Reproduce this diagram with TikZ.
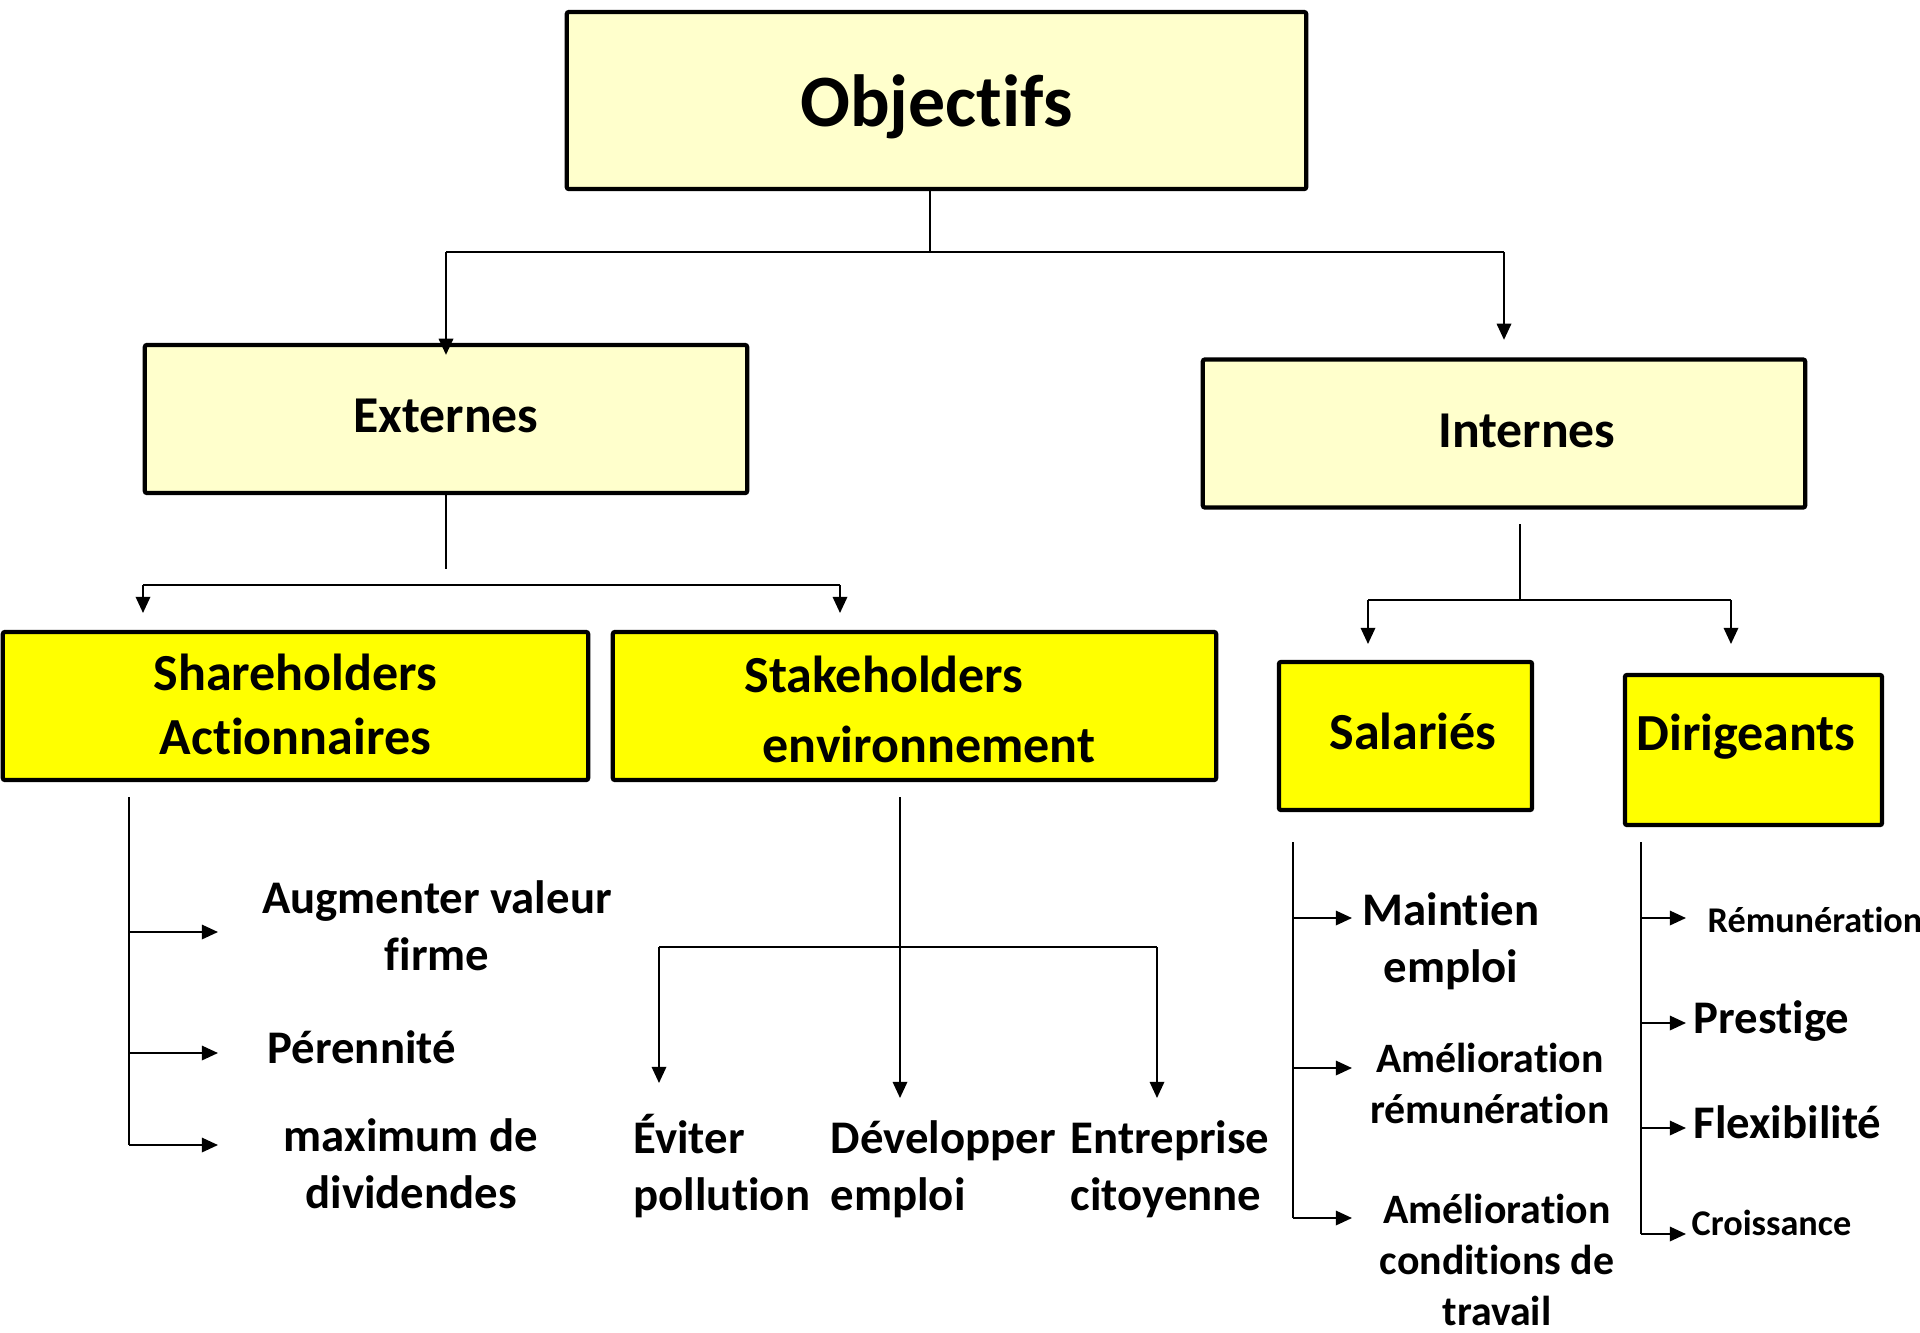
\documentclass[tikz,border=0pt]{standalone}
\usepackage{fontspec}
\setmainfont{Carlito}[Ligatures={NoCommon}]
\usetikzlibrary{arrows.meta}
\definecolor{paleyellow}{HTML}{FFFFCC}
\definecolor{brightyellow}{HTML}{FFFF00}

\begin{document}
\begin{tikzpicture}[x=0.01cm, y=-0.01cm,
  box/.style={draw=black, line width=1.2pt, rounded corners=0.6pt, inner sep=0pt,
              text depth=0pt, align=center},
  topbox/.style={box, fill=paleyellow, minimum width=6.02cm, minimum height=1.48cm,
                 font=\bfseries\fontsize{14.7}{18}\selectfont},
  subbox/.style={box, fill=brightyellow, minimum height=1.48cm,
                 font=\bfseries\fontsize{14.8}{18.2}\selectfont},
  link/.style={draw=black, line width=0.6pt},
  arr/.style={link, -{Triangle[length=4.6pt, width=4.1pt]}},
  item/.style={inner sep=0pt, align=center, font=\bfseries\fontsize{13.3}{16}\selectfont},
  itemsm/.style={inner sep=0pt, align=center, font=\bfseries\fontsize{11.9}{14.4}\selectfont},
  itemxs/.style={inner sep=0pt, align=left, font=\bfseries\fontsize{10.3}{12.4}\selectfont}
]
\useasboundingbox (0,0) rectangle (1920,1332);

% ---------- boxes ----------
\node[box, fill=paleyellow, minimum width=7.39cm, minimum height=1.77cm, text height=0.51cm,
      font=\bfseries\fontsize{21}{25}\selectfont] (obj) at (936.5,100.5) {Objectifs};
\node[topbox, text height=0.26cm] (ext) at (446,419) {Externes};
\node[topbox, text height=0.27cm] (int) at (1504,433.5) {\kern0.46cm Internes};

\node[subbox, minimum width=5.85cm, text height=0.96cm] (sha) at (295.5,706)
  {Shareholders\\Actionnaires};
\node[subbox, minimum width=6.03cm, text height=1.12cm,
      font=\bfseries\fontsize{14.8}{19.9}\selectfont] (sta) at (914.5,706)
  {Stakeholders\kern0.61cm\\\kern0.29cm environnement};
\node[subbox, minimum width=2.53cm, text height=0.26cm] (sal) at (1405.5,736)
  {\kern0.15cm Salariés};
\node[subbox, minimum width=2.57cm, minimum height=1.50cm, text height=0pt] (dir) at (1753.5,750)
  {Dirigeants\kern0.15cm};

% ---------- first level split ----------
\coordinate (ja)  at (930,252);
\coordinate (jaL) at (446,252);
\coordinate (jaR) at (1504,252);
\draw[link] (ja |- obj.south) -- (ja);
\draw[link] (jaL) -- (jaR);
\draw[arr] (jaL) -- ([yshift=-0.12cm]ext.north);
\draw[arr] (jaR) -- ([yshift=0.175cm]int.north);

% ---------- external split ----------
\coordinate (jbTop) at (446,569);
\coordinate (jbL) at (143,585);
\coordinate (jbR) at (840,585);
\draw[link] (ext.south) -- (jbTop);
\draw[link] (jbL) -- (jbR);
\draw[arr] (jbL) -- ++(0,28);
\draw[arr] (jbR) -- ++(0,28);

% ---------- internal split ----------
\coordinate (jcTop) at (1520,524);
\coordinate (jc)  at (1520,600);
\coordinate (jcL) at (1368,600);
\coordinate (jcR) at (1731,600);
\draw[link] (jcTop) -- (jc);
\draw[link] (jcL) -- (jcR);
\draw[arr] (jcL) -- ++(0,44);
\draw[arr] (jcR) -- ++(0,44);

% ---------- shareholder goals ----------
\node[item, anchor=base] (augm) at (437,970) {Augmenter valeur\\firme};
\node[item, anchor=base west] (peren) at (267,1063) {Pérennité};
\node[item, anchor=base] (maxd) at (411,1208) {maximum de\\dividendes};
\coordinate (shTop) at (129,797);
\coordinate (shBot) at (129,1145);
\coordinate (augIn) at (218,932);
\coordinate (perIn) at (218,1053);
\coordinate (maxIn) at (218,1145);
\draw[link] (shTop) -- (shBot);
\draw[arr] (augIn -| shTop) -- (augIn);
\draw[arr] (perIn -| shTop) -- (perIn);
\draw[arr] (maxIn -| shTop) -- (maxIn);

% ---------- stakeholder goals ----------
\node[item, align=left, anchor=base west] (evit) at (633,1210) {Éviter\\pollution};
\node[item, align=left, anchor=base west] (devel) at (830,1210) {Développer\\emploi};
\node[item, align=left, anchor=base west] (entr) at (1070,1210) {Entreprise\\citoyenne};
\coordinate (stTop) at (900,797);
\coordinate (stL) at (659,947);
\coordinate (stR) at (1157,947);
\draw[arr] (stTop) -- (900,1098);
\draw[link] (stL) -- (stR);
\draw[arr] (stL) -- (659,1083);
\draw[arr] (stR) -- (1157,1098);

% ---------- employee goals ----------
\node[item, anchor=base] (maint) at (1451,982) {Maintien\\emploi};
\node[itemsm, anchor=base] (amrem) at (1490,1123) {Amélioration\\rémunération};
\node[itemsm, anchor=base] (amcond) at (1497,1325) {Amélioration\\conditions de\\travail};
\coordinate (saTop) at (1293,842);
\coordinate (saBot) at (1293,1218);
\coordinate (mainIn) at (1352,918);
\coordinate (remIn) at (1352,1068);
\coordinate (condIn) at (1352,1218);
\draw[link] (saTop) -- (saBot);
\draw[arr] (mainIn -| saTop) -- (mainIn);
\draw[arr] (remIn -| saTop) -- (remIn);
\draw[arr] (condIn -| saTop) -- (condIn);

% ---------- manager goals ----------
\node[itemxs, anchor=base west] (remu) at (1707,932) {Rémunération};
\node[item, anchor=base west] (prest) at (1693,1033) {Prestige};
\node[item, anchor=base west] (flex) at (1693,1138) {Flexibilité};
\node[itemxs, anchor=base west] (crois) at (1691,1235) {Croissance};
\coordinate (diTop) at (1641,842);
\coordinate (diBot) at (1641,1234);
\coordinate (remuIn) at (1686,918);
\coordinate (presIn) at (1686,1023);
\coordinate (flexIn) at (1686,1128);
\coordinate (croIn) at (1686,1234);
\draw[link] (diTop) -- (diBot);
\draw[arr] (remuIn -| diTop) -- (remuIn);
\draw[arr] (presIn -| diTop) -- (presIn);
\draw[arr] (flexIn -| diTop) -- (flexIn);
\draw[arr] (croIn -| diTop) -- (croIn);
\end{tikzpicture}
\end{document}
